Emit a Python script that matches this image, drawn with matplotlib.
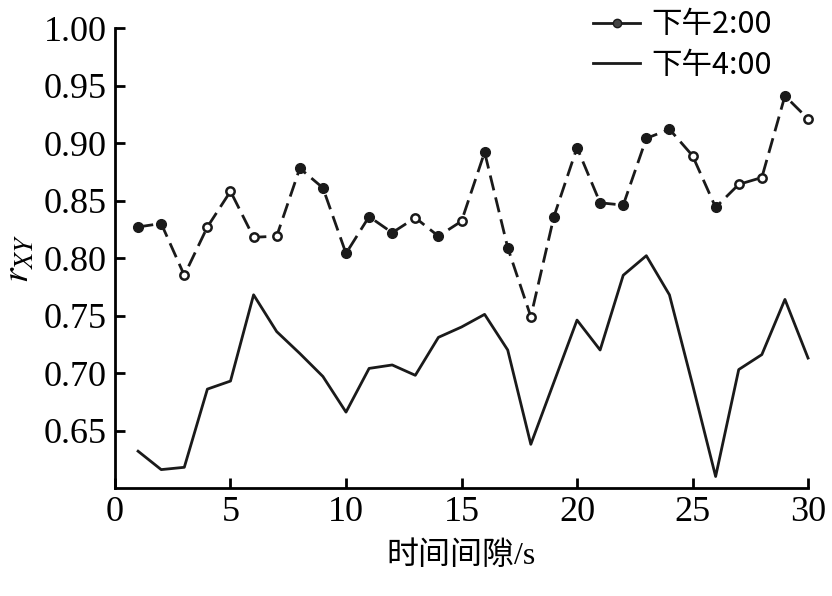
import numpy as np
import matplotlib
matplotlib.use("Agg")
import matplotlib.pyplot as plt
from matplotlib.lines import Line2D

# time gap (s)
t = list(range(1, 31))

# correlation coefficient r_XY, 2 pm
r_2pm = [0.827, 0.830, 0.785, 0.827, 0.858, 0.818, 0.819, 0.878, 0.861, 0.804,
         0.836, 0.822, 0.835, 0.819, 0.832, 0.892, 0.809, 0.749, 0.836, 0.896,
         0.848, 0.846, 0.904, 0.912, 0.889, 0.844, 0.864, 0.870, 0.941, 0.921]

# correlation coefficient r_XY, 4 pm
r_4pm = [0.632, 0.616, 0.618, 0.686, 0.693, 0.768, 0.736, 0.717, 0.697, 0.666,
         0.704, 0.707, 0.698, 0.731, 0.740, 0.751, 0.720, 0.638, 0.692, 0.746,
         0.720, 0.785, 0.802, 0.768, 0.690, 0.610, 0.703, 0.716, 0.764, 0.713]

# points drawn as hollow circles in the 2 pm series
hollow = [3, 4, 5, 6, 7, 13, 15, 18, 25, 27, 28, 30]

yticks = [0.65, 0.70, 0.75, 0.80, 0.85, 0.90, 0.95, 1.00]
xticks = [0, 5, 10, 15, 20, 25, 30]

serif = ["Liberation Serif", "Noto Sans CJK SC"]
cjk = ["Noto Sans CJK SC", "Liberation Sans"]
plt.rcParams["mathtext.fontset"] = "stix"


def main():
    fig = plt.figure(figsize=(8.32, 5.96), dpi=100)
    ax = fig.add_axes([0.1382, 0.1812, 0.833, 0.7718])

    ax.plot(t, r_2pm, color="#1a1a1a", lw=2.0, dashes=(5.5, 2.6), clip_on=False)
    ax.plot(t, r_4pm, color="#1a1a1a", lw=2.0, clip_on=False)

    t_arr = np.array(t)
    y_arr = np.array(r_2pm)
    is_open = np.isin(t_arr, hollow)
    ax.plot(t_arr[~is_open], y_arr[~is_open], "o", ms=7,
            color="#1a1a1a", ls="none", clip_on=False)
    ax.plot(t_arr[is_open], y_arr[is_open], "o", ms=6, mfc="white",
            mec="#1a1a1a", mew=1.8, ls="none", clip_on=False)

    ax.set_xlim(0, 30)
    ax.set_ylim(0.60, 1.00)
    ax.set_xticks(xticks)
    ax.set_yticks(yticks)
    ax.set_yticklabels([f"{v:.2f}" for v in yticks])
    ax.tick_params(direction="in", length=7, width=2, labelsize=26, pad=6)
    for lab in ax.get_xticklabels() + ax.get_yticklabels():
        lab.set_family(serif)

    for side in ["top", "right"]:
        ax.spines[side].set_visible(False)
    for side in ["left", "bottom"]:
        ax.spines[side].set_linewidth(2)

    ax.set_xlabel("时间间隙/s", family=serif, fontsize=23, labelpad=9)
    ax.set_ylabel(r"$r_{XY}$", fontsize=27)
    ax.yaxis.set_label_coords(-0.113, 0.5)

    handles = [
        Line2D([], [], color="#1a1a1a", lw=2.0, marker="o", ms=6, mfc="#444444"),
        Line2D([], [], color="#1a1a1a", lw=2.0),
    ]
    ax.legend(handles, ["下午2:00", "下午4:00"], loc="upper right",
              bbox_to_anchor=(0.965, 1.067), frameon=False,
              prop={"family": cjk, "size": 22}, handlelength=1.55,
              handletextpad=0.35, labelspacing=0.3, borderaxespad=0)

    fig.savefig("out.png", dpi=100)


if __name__ == '__main__':
    main()
